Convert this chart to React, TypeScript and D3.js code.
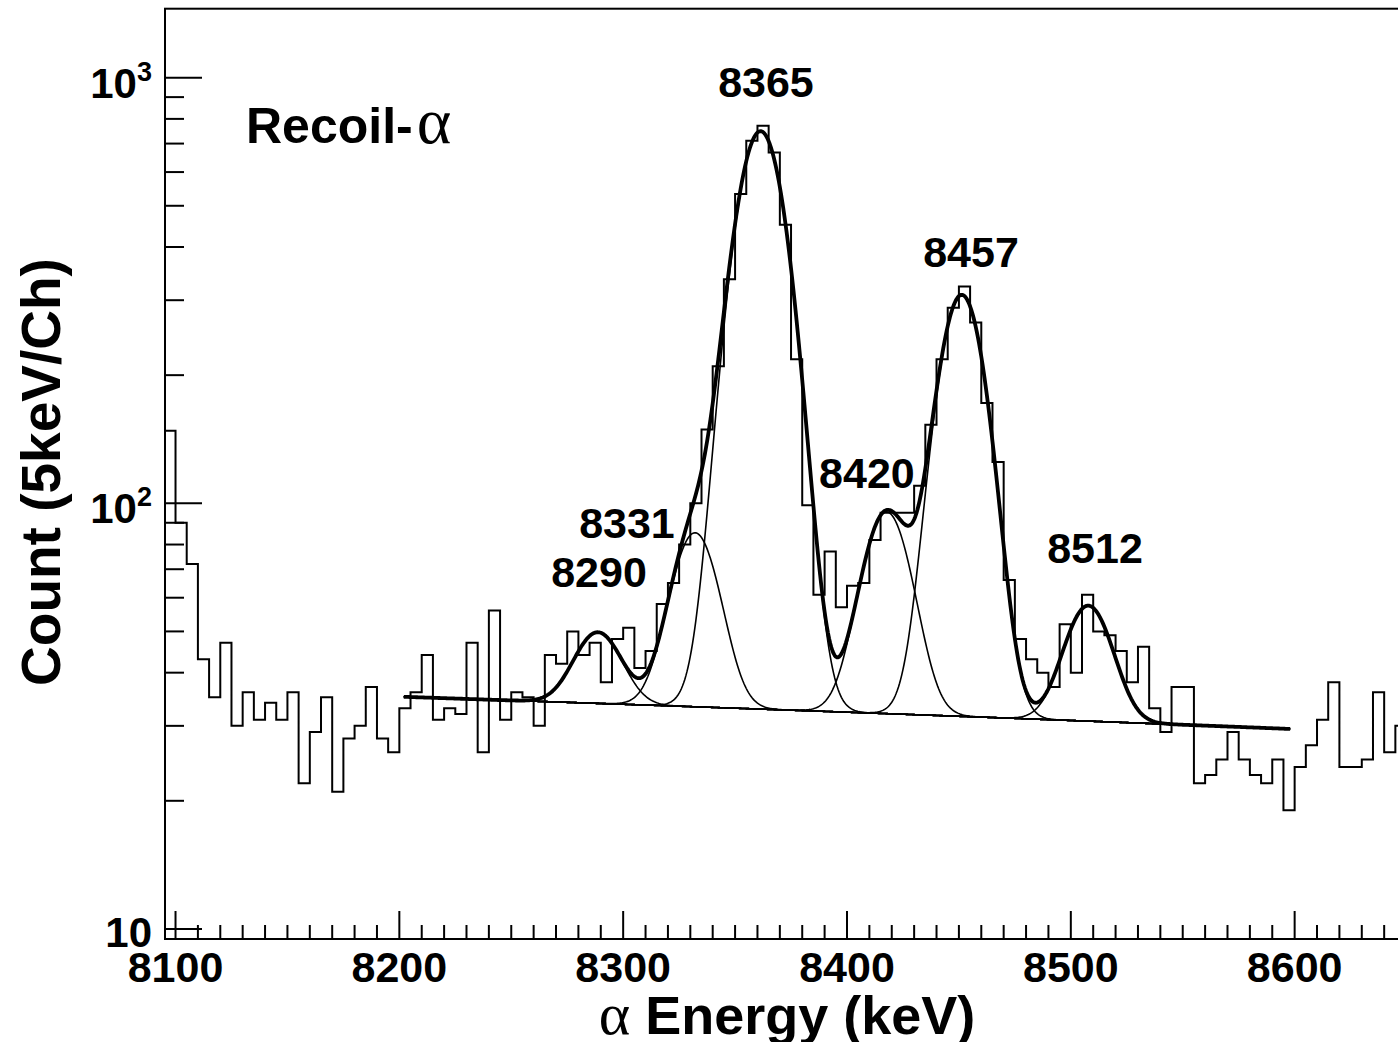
import React from "react";
import * as d3 from "d3";

// ---------- data ----------
const binStart = 8095; // keV, left edge of first bin
const binWidth = 5; // keV per channel
const counts = [
  148, 90, 72, 43, 35, 47, 30, 36, 31, 34,
  31, 36, 22, 29, 35, 21, 28, 30, 37, 28,
  26, 33, 36, 44, 31, 33, 32, 47, 26, 56,
  31, 36, 35, 30, 44, 42, 50, 44, 47, 38,
  48, 51, 41, 45, 58, 65, 80, 100, 149, 210,
  336, 533, 711, 771, 667, 451, 218, 99, 61, 77,
  57, 64, 65, 82, 95, 95, 95, 110, 153, 218,
  288, 323, 266, 172, 125, 66, 48, 43, 40, 37,
  52, 40, 61, 50, 49, 45, 38, 46, 33, 29,
  37, 37, 22, 23, 25, 29, 25, 23, 22, 25,
  19, 24, 27, 31, 38, 24, 24, 25, 36, 26,
  30,
];

// fit: linear background + gaussian components
const fitRange = [8202, 8598];
const bgValues = [35.1, 29.5]; // background at fit range ends
const peakCenters = [8288.7, 8332.1, 8361.4, 8417.7, 8451.3, 8507.8];
const peakAmps = [15.9, 52, 715, 63.4, 277, 26.7];
const peakSigmas = [10, 10, 10.8, 10.3, 10, 10];

// peak labels: text, energy, count at baseline
const peakLabels = ["8290", "8331", "8365", "8420", "8457", "8512"];
const labelEnergies = [8289.2, 8301.7, 8363.8, 8408.9, 8455.4, 8510.8];
const labelCounts = [63.6, 83, 901, 108.7, 359, 72.4];

const xMajorTicks = [8100, 8200, 8300, 8400, 8500, 8600];
const yDecades = [10, 100, 1000];
const yDecadeExp = ["", "2", "3"];

// ---------- layout ----------
const W = 1398;
const H = 1042;
const left = 165;
const right = 1407;
const top = 8.7;
const bottom = 939;
const FONT = "'Liberation Sans', Arial, Helvetica, sans-serif";
const SERIF = "'Liberation Serif', 'Times New Roman', serif";

const x = d3.scaleLinear().domain([8095.3, 8650.2]).range([left, right]);
const y = d3.scaleLog().domain([9.47, 1452]).range([bottom, top]);

function bg(e: number) {
  const t = (e - fitRange[0]) / (fitRange[1] - fitRange[0]);
  return bgValues[0] + t * (bgValues[1] - bgValues[0]);
}
function gauss(e: number, i: number) {
  const d = (e - peakCenters[i]) / peakSigmas[i];
  return peakAmps[i] * Math.exp(-0.5 * d * d);
}

export default function App() {
  // histogram
  const histPts: [number, number][] = counts.map((c, i) => [binStart + i * binWidth, c]);
  histPts.push([binStart + counts.length * binWidth, counts[counts.length - 1]]);
  const histLine = d3
    .line<[number, number]>()
    .x((d) => x(d[0]))
    .y((d) => y(d[1]))
    .curve(d3.curveStepAfter);

  const grid = d3.range(fitRange[0], fitRange[1] + 0.001, 0.5);
  const totalPath = d3
    .line<number>()
    .x((e) => x(e))
    .y((e) => y(bg(e) + peakCenters.reduce((s, _, i) => s + gauss(e, i), 0)))(grid);
  const bgPath = d3.line<number>().x((e) => x(e)).y((e) => y(bg(e)))(grid);
  const compPaths = peakCenters.map((_, i) =>
    d3.line<number>().x((e) => x(e)).y((e) => y(bg(e) + gauss(e, i)))(grid)
  );

  const xTicks = d3.range(8100, 8650, 10);
  const yMinor: number[] = [];
  yDecades.forEach((d) => {
    for (let m = 2; m <= 9; m++) {
      const v = d * m;
      if (v < 1452) yMinor.push(v);
    }
  });

  return (
    <svg
      width={W}
      height={H}
      style={{ position: "absolute", left: 0, top: 0, background: "#fff" }}
      fontFamily={FONT}
    >
      <defs>
        <clipPath id="plot">
          <rect x={left} y={top} width={right - left} height={bottom - top} />
        </clipPath>
      </defs>
      <rect x={0} y={0} width={W} height={H} fill="#fff" />
      <g clipPath="url(#plot)" fill="none" stroke="#000">
        <path d={histLine(histPts) || ""} strokeWidth={2} />
        <path d={bgPath || ""} strokeWidth={1.6} />
        {compPaths.map((p, i) => (
          <path key={i} d={p || ""} strokeWidth={1.6} />
        ))}
        <path d={totalPath || ""} strokeWidth={3.8} strokeLinejoin="round" />
      </g>

      {/* frame */}
      <rect x={left} y={top} width={right - left} height={bottom - top} fill="none" stroke="#000" strokeWidth={2} />

      {/* ticks */}
      <g stroke="#000" strokeWidth={2}>
        {xTicks.map((t) => (
          <line key={t} x1={x(t)} x2={x(t)} y1={bottom} y2={bottom - (t % 100 === 0 ? 28 : 14)} />
        ))}
        {yDecades.map((d) => (
          <line key={d} x1={left} x2={left + 37} y1={y(d)} y2={y(d)} />
        ))}
        {yMinor.map((v) => (
          <line key={v} x1={left} x2={left + 19} y1={y(v)} y2={y(v)} />
        ))}
      </g>

      {/* x tick labels */}
      <g fontSize={43} fontWeight="bold" textAnchor="middle">
        {xMajorTicks.map((t) => (
          <text key={t} x={x(t)} y={982}>
            {t}
          </text>
        ))}
      </g>

      {/* y tick labels */}
      <g fontSize={42} fontWeight="bold" textAnchor="end">
        {yDecades.map((d, i) => (
          <text key={d} x={152} y={y(d) + (i === 0 ? 18 : 20)}>
            10
            {yDecadeExp[i] && (
              <tspan fontSize={27} dy={-17}>
                {yDecadeExp[i]}
              </tspan>
            )}
          </text>
        ))}
      </g>

      {/* peak labels */}
      <g fontSize={43} fontWeight="bold" textAnchor="middle">
        {peakLabels.map((l, i) => (
          <text key={l} x={x(labelEnergies[i])} y={y(labelCounts[i])}>
            {l}
          </text>
        ))}
      </g>

      {/* in-plot title */}
      <text x={246} y={143} fontSize={50} fontWeight="bold">
        Recoil-
        <tspan fontFamily={SERIF} fontWeight="normal" fontSize={66} dx={4}>
          α
        </tspan>
      </text>

      {/* axis titles */}
      <text x={787} y={1034} fontSize={54} fontWeight="bold" textAnchor="middle">
        <tspan fontFamily={SERIF} fontWeight="normal" fontSize={60}>
          α
        </tspan>
        {" Energy (keV)"}
      </text>
      <text
        transform={`translate(60, 472) rotate(-90)`}
        fontSize={55}
        fontWeight="bold"
        textAnchor="middle"
      >
        Count (5keV/Ch)
      </text>
    </svg>
  );
}
